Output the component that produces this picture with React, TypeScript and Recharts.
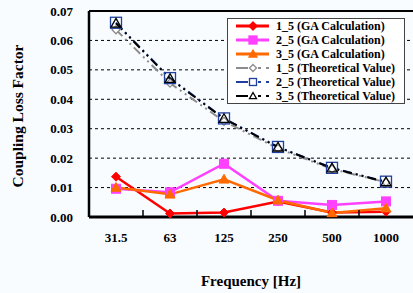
import React from 'react';
import { LineChart, Line, XAxis, YAxis, CartesianGrid, Legend, ReferenceLine } from 'recharts';

// Frequencies (category labels along the bottom)
const freqLabels = ['31.5', '63', '125', '250', '500', '1000'];

// GA calculation results
const ga15 = [0.0137, 0.0012, 0.0015, 0.0053, 0.0015, 0.0018];
const ga25 = [0.0096, 0.0084, 0.0181, 0.0055, 0.0041, 0.0053];
const ga35 = [0.0100, 0.0077, 0.0128, 0.0057, 0.0014, 0.0030];

// Theoretical values
const th15 = [0.0636, 0.0455, 0.0325, 0.0233, 0.0163, 0.0118];
const th25 = [0.0660, 0.0472, 0.0335, 0.0238, 0.0167, 0.0120];
const th35 = [0.0658, 0.0470, 0.0334, 0.0237, 0.0166, 0.0119];

const yTicks = [0, 0.01, 0.02, 0.03, 0.04, 0.05, 0.06, 0.07];

const data = freqLabels.map((f, i) => ({
  x: i + 0.5,
  f,
  ga15: ga15[i],
  ga25: ga25[i],
  ga35: ga35[i],
  th15: th15[i],
  th25: th25[i],
  th35: th35[i],
}));

// label ticks at category centres, small tick marks on the boundaries
const xTicks = freqLabels.flatMap((_, i) => (i === 0 ? [i + 0.5] : [i, i + 0.5]));

const FONT = '"Liberation Serif", "Times New Roman", serif';
const THEO_DASH = '9 4 2 4 2 4';

type Kind = 'diamond' | 'square' | 'triangle';

const Marker = ({ kind, cx, cy, size, fill, stroke, sw = 1.3 }: any) => {
  const r = size / 2;
  if (kind === 'diamond') {
    return <polygon points={`${cx},${cy - r} ${cx + r},${cy} ${cx},${cy + r} ${cx - r},${cy}`} fill={fill} stroke={stroke} strokeWidth={sw} />;
  }
  if (kind === 'square') {
    return <rect x={cx - r} y={cy - r} width={size} height={size} fill={fill} stroke={stroke} strokeWidth={sw} />;
  }
  return <polygon points={`${cx},${cy - r} ${cx + r},${cy + r * 0.75} ${cx - r},${cy + r * 0.75}`} fill={fill} stroke={stroke} strokeWidth={sw} />;
};

const series = [
  { key: 'th15', name: '1_5 (Theoretical Value)', color: '#8c8c8c', kind: 'diamond' as Kind, size: 8, fill: '#ffffff', theo: true },
  { key: 'th25', name: '2_5 (Theoretical Value)', color: '#1f3f9f', kind: 'square' as Kind, size: 11, fill: 'none', theo: true },
  { key: 'th35', name: '3_5 (Theoretical Value)', color: '#000000', kind: 'triangle' as Kind, size: 10, fill: 'none', theo: true },
  { key: 'ga15', name: '1_5 (GA Calculation)', color: '#ff0000', kind: 'diamond' as Kind, size: 9, fill: '#ff0000', theo: false },
  { key: 'ga25', name: '2_5 (GA Calculation)', color: '#ff40ff', kind: 'square' as Kind, size: 9, fill: '#ff40ff', theo: false },
  { key: 'ga35', name: '3_5 (GA Calculation)', color: '#ff6a00', kind: 'triangle' as Kind, size: 10, fill: '#ff6a00', theo: false },
];

const legendOrder = ['ga15', 'ga25', 'ga35', 'th15', 'th25', 'th35'];

const XTick = (props: any) => {
  const { x, y, payload } = props;
  const v = payload.value;
  if (Number.isInteger(v)) {
    // axis line sits 16px above y (tickSize + tickMargin)
    return <line x1={x} x2={x} y1={y - 16} y2={y - 23} stroke="#000" strokeWidth={1.5} />;
  }
  return (
    <text x={x} y={y} dy="0.71em" textAnchor="middle" fontFamily={FONT} fontWeight="bold" fontSize={13} fill="#000">
      {freqLabels[Math.floor(v)]}
    </text>
  );
};

const LegendBox = () => (
  <div
    style={{
      border: '1px solid #444',
      background: '#fff',
      width: 176,
      fontFamily: FONT,
      fontWeight: 'bold',
      fontSize: 12,
      color: '#000',
    }}
  >
    {legendOrder.map((k) => {
      const s = series.find((d) => d.key === k)!;
      return (
        <div key={k} style={{ height: 14, display: 'flex', alignItems: 'center' }}>
          <svg width={48} height={14} style={{ flex: 'none' }}>
            {s.theo ? (
              <g>
                <line x1={8} x2={20} y1={7} y2={7} stroke={s.color} strokeWidth={2} />
                <line x1={30} x2={33} y1={7} y2={7} stroke={s.color} strokeWidth={2} />
                <line x1={38} x2={41} y1={7} y2={7} stroke={s.color} strokeWidth={2} />
              </g>
            ) : (
              <line x1={8} x2={41} y1={7} y2={7} stroke={s.color} strokeWidth={3} />
            )}
            <Marker kind={s.kind} cx={25} cy={7} size={s.theo ? 7 : 8} fill={s.theo ? '#fff' : s.fill} stroke={s.color} />
          </svg>
          <span style={{ whiteSpace: 'nowrap' }}>{s.name}</span>
        </div>
      );
    })}
  </div>
);

const YLabel = ({ viewBox }: any) => {
  const cy = viewBox.y + viewBox.height / 2 + 2;
  return (
    <text
      x={17}
      y={cy}
      transform={`rotate(-90, 17, ${cy})`}
      textAnchor="middle"
      dominantBaseline="central"
      fontFamily={FONT}
      fontWeight="bold"
      fontSize={15.5}
      fill="#000"
    >
      Coupling Loss Factor
    </text>
  );
};

export default function App() {
  return (
    <div style={{ position: 'absolute', left: 0, top: 0, width: 413, height: 293, background: '#f9fcff' }}>
      <LineChart width={413} height={293} data={data} margin={{ top: 11, right: 0, bottom: 0, left: 0 }}>
        <CartesianGrid vertical={false} stroke="#000" strokeDasharray="3 3" strokeWidth={1} />
        <XAxis
          dataKey="x"
          type="number"
          domain={[0, 6]}
          ticks={xTicks}
          interval={0}
          tick={<XTick />}
          tickLine={false}
          tickSize={8}
          tickMargin={8}
          height={76}
          axisLine={{ stroke: '#000', strokeWidth: 3 }}
          label={{ value: 'Frequency [Hz]', position: 'insideBottom', offset: 7, fontFamily: FONT, fontWeight: 'bold', fontSize: 15, fill: '#000' }}
        />
        <YAxis
          domain={[0, 0.07]}
          ticks={yTicks}
          interval={0}
          width={89}
          tickSize={0}
          tickMargin={16}
          tickLine={false}
          axisLine={{ stroke: '#000', strokeWidth: 2.5 }}
          tickFormatter={(v: number) => v.toFixed(2)}
          tick={{ fontFamily: FONT, fontWeight: 'bold', fontSize: 13, fill: '#000' }}
          label={{ content: <YLabel /> }}
        />
        <ReferenceLine y={0.07} stroke="#000" strokeWidth={2} />
        {series.map((s) => (
          <Line
            key={s.key}
            dataKey={s.key}
            name={s.name}
            stroke={s.color}
            strokeWidth={s.theo ? 2 : 2.5}
            strokeDasharray={s.theo ? THEO_DASH : undefined}
            isAnimationActive={false}
            dot={(p: any) => (
              <Marker key={`${s.key}-${p.index}`} kind={s.kind} cx={p.cx} cy={p.cy} size={s.size} fill={s.fill} stroke={s.color} sw={s.theo ? 1.3 : 1} />
            )}
            activeDot={false}
          />
        ))}
        <Legend
          layout="vertical"
          align="center"
          verticalAlign="middle"
          wrapperStyle={{ left: 227, top: 18, width: 178 }}
          content={<LegendBox />}
        />
      </LineChart>
    </div>
  );
}
